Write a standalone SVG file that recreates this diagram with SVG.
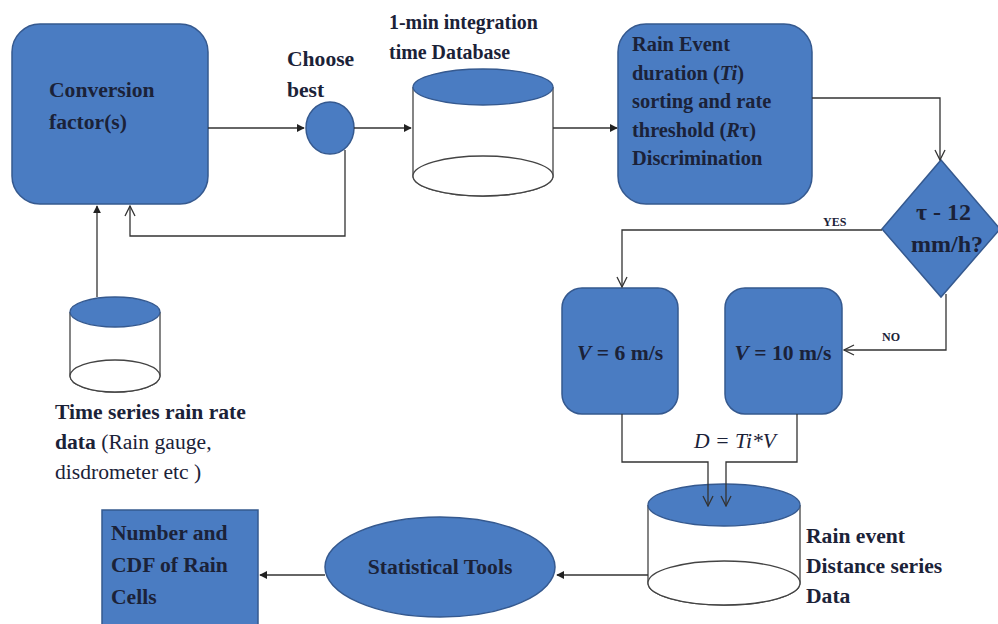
<svg xmlns="http://www.w3.org/2000/svg" width="998" height="624" viewBox="0 0 998 624">
<style>
.node{fill:#4a7cc2;stroke:#35598f;stroke-width:1.5}
.db{fill:#fff;stroke:#444;stroke-width:1.3}
.dbtop{fill:#4a7cc2;stroke:#35598f;stroke-width:1.3}
.c{fill:none;stroke:#333;stroke-width:1.3}
</style>
<defs>
<marker id="fa" viewBox="0 0 10 10" refX="9" refY="5" markerWidth="8" markerHeight="8" markerUnits="userSpaceOnUse" orient="auto"><path d="M0,0 L10,5 L0,10 z" fill="#222"/></marker>
<marker id="oa" viewBox="0 0 12 12" refX="11" refY="6" markerWidth="12" markerHeight="12" markerUnits="userSpaceOnUse" orient="auto"><path d="M1,1 L11,6 L1,11" fill="none" stroke="#333" stroke-width="1.3"/></marker>
</defs>
<rect width="998" height="624" fill="#fff"/>
<g id="conversion">
<rect class="node" x="12" y="24" width="196" height="180" rx="28"/>
<text font-family="Liberation Serif" font-weight="bold" font-size="24" fill="#1b2238" x="0" y="0" transform="translate(49 97) scale(0.9)">Conversion</text>
<text font-family="Liberation Serif" font-weight="bold" font-size="24" fill="#1b2238" x="0" y="0" transform="translate(49 129) scale(0.9)">factor(s)</text>
</g>
<g id="choose">
<ellipse class="node" cx="330" cy="128" rx="24" ry="26"/>
<text font-family="Liberation Serif" font-weight="bold" font-size="24" fill="#1b2238" x="0" y="0" transform="translate(287 66) scale(0.9)">Choose</text>
<text font-family="Liberation Serif" font-weight="bold" font-size="24" fill="#1b2238" x="0" y="0" transform="translate(287 97) scale(0.9)">best</text>
</g>
<g id="db1">
<path class="db" d="M413,87 V176 A70,20 0 0 0 553,176 V87"/>
<ellipse class="db" cx="483" cy="176" rx="70" ry="20"/>
<ellipse class="dbtop" cx="483" cy="87" rx="70" ry="18"/>
<text font-family="Liberation Serif" font-weight="bold" font-size="24" fill="#1b2238" x="0" y="0" transform="translate(389 29) scale(0.83)">1-min integration</text>
<text font-family="Liberation Serif" font-weight="bold" font-size="24" fill="#1b2238" x="0" y="0" transform="translate(389 59) scale(0.83)">time Database</text>
</g>
<g id="rainevent">
<rect class="node" x="618" y="24" width="194" height="180" rx="28"/>
<text font-family="Liberation Serif" font-weight="bold" font-size="24" fill="#1b2238" x="0" y="0" transform="translate(632 51) scale(0.85)">Rain Event</text>
<text font-family="Liberation Serif" font-weight="bold" font-size="24" fill="#1b2238" x="0" y="0" transform="translate(632 80) scale(0.85)">duration (<tspan font-style="italic">Ti</tspan>)</text>
<text font-family="Liberation Serif" font-weight="bold" font-size="24" fill="#1b2238" x="0" y="0" transform="translate(632 108) scale(0.85)">sorting and rate</text>
<text font-family="Liberation Serif" font-weight="bold" font-size="24" fill="#1b2238" x="0" y="0" transform="translate(632 137) scale(0.85)">threshold (<tspan font-style="italic">R</tspan>τ)</text>
<text font-family="Liberation Serif" font-weight="bold" font-size="24" fill="#1b2238" x="0" y="0" transform="translate(632 165) scale(0.85)">Discrimination</text>
</g>
<g id="decision">
<polygon class="node" points="941,160 1000,229 941,297 882,229"/>
<text font-family="Liberation Serif" font-weight="bold" font-size="24" fill="#1b2238" x="916" y="220">τ -  12</text>
<text font-family="Liberation Serif" font-weight="bold" font-size="24" fill="#1b2238" x="911" y="252">mm/h?</text>
</g>
<g id="v6">
<rect class="node" x="562" y="288" width="116" height="126" rx="20"/>
<text font-family="Liberation Serif" font-weight="bold" font-size="24" fill="#1b2238" x="0" y="0" text-anchor="middle" transform="translate(620 360) scale(0.9)"><tspan font-style="italic">V</tspan> = 6 m/s</text>
</g>
<g id="v10">
<rect class="node" x="725" y="288" width="117" height="126" rx="20"/>
<text font-family="Liberation Serif" font-weight="bold" font-size="24" fill="#1b2238" x="0" y="0" text-anchor="middle" transform="translate(783 360) scale(0.9)"><tspan font-style="italic">V</tspan> = 10 m/s</text>
</g>
<g id="db2">
<path class="db" d="M648,505 V583 A76,22 0 0 0 800,583 V505"/>
<ellipse class="db" cx="724" cy="583" rx="76" ry="22"/>
<ellipse class="dbtop" cx="724" cy="505" rx="76" ry="21"/>
<text font-family="Liberation Serif" font-weight="bold" font-size="24" fill="#1b2238" x="0" y="0" transform="translate(806 543) scale(0.9)">Rain event</text>
<text font-family="Liberation Serif" font-weight="bold" font-size="24" fill="#1b2238" x="0" y="0" transform="translate(806 573) scale(0.9)">Distance series</text>
<text font-family="Liberation Serif" font-weight="bold" font-size="24" fill="#1b2238" x="0" y="0" transform="translate(806 603) scale(0.9)">Data</text>
</g>
<g id="stats">
<ellipse class="node" cx="440" cy="567" rx="115" ry="50"/>
<text font-family="Liberation Serif" font-weight="bold" font-size="24" fill="#1b2238" x="0" y="0" text-anchor="middle" transform="translate(440 574) scale(0.9)">Statistical Tools</text>
</g>
<g id="cells">
<rect class="node" x="102" y="510" width="156" height="120"/>
<text font-family="Liberation Serif" font-weight="bold" font-size="24" fill="#1b2238" x="0" y="0" transform="translate(111 540) scale(0.9)">Number and</text>
<text font-family="Liberation Serif" font-weight="bold" font-size="24" fill="#1b2238" x="0" y="0" transform="translate(111 572) scale(0.9)">CDF of Rain</text>
<text font-family="Liberation Serif" font-weight="bold" font-size="24" fill="#1b2238" x="0" y="0" transform="translate(111 604) scale(0.9)">Cells</text>
</g>
<g id="db3">
<path class="db" d="M70,312 V376 A45,16 0 0 0 160,376 V312"/>
<ellipse class="db" cx="115" cy="376" rx="45" ry="16"/>
<ellipse class="dbtop" cx="115" cy="312" rx="45" ry="15"/>
<text font-family="Liberation Serif" font-weight="bold" font-size="24" fill="#1b2238" x="0" y="0" transform="translate(55 419) scale(0.9)">Time series rain rate</text>
<text font-family="Liberation Serif" font-size="24" fill="#1b2238" x="0" y="0" transform="translate(55 449) scale(0.9)"><tspan font-weight="bold">data</tspan> (Rain gauge,</text>
<text font-family="Liberation Serif" font-size="24" fill="#1b2238" x="0" y="0" transform="translate(55 479) scale(0.9)">disdrometer etc )</text>
</g>
<g id="connectors">
<line class="c" x1="208" y1="128" x2="304" y2="128" marker-end="url(#fa)"/>
<line class="c" x1="354" y1="128" x2="411" y2="128" marker-end="url(#fa)"/>
<line class="c" x1="553" y1="128" x2="617" y2="128" marker-end="url(#fa)"/>
<polyline class="c" points="345,150 345,236 130,236 130,206" marker-end="url(#oa)"/>
<line class="c" x1="97" y1="297" x2="97" y2="206" marker-end="url(#fa)"/>
<polyline class="c" points="812,98 940,98 940,160" marker-end="url(#oa)"/>
<polyline class="c" points="882,230 622,230 622,287" marker-end="url(#oa)"/>
<polyline class="c" points="946,294 946,350 844,350" marker-end="url(#oa)"/>
<polyline class="c" points="622,414 622,462 708,462 708,506" marker-end="url(#oa)"/>
<polyline class="c" points="797,414 797,462 726,462 726,506" marker-end="url(#oa)"/>
<line class="c" x1="648" y1="575" x2="557" y2="575" marker-end="url(#fa)"/>
<line class="c" x1="325" y1="575" x2="260" y2="575" marker-end="url(#fa)"/>
<text font-family="Liberation Serif" font-weight="bold" font-size="24" fill="#1b2238" x="0" y="0" transform="translate(823 226) scale(0.5)">YES</text>
<text font-family="Liberation Serif" font-weight="bold" font-size="24" fill="#1b2238" x="0" y="0" transform="translate(882 341) scale(0.5)">NO</text>
<text font-family="Liberation Serif" font-size="24" fill="#1b2238" x="0" y="0" text-anchor="middle" font-style="italic" transform="translate(735 448) scale(0.9)">D = Ti*V</text>
</g>
</svg>
